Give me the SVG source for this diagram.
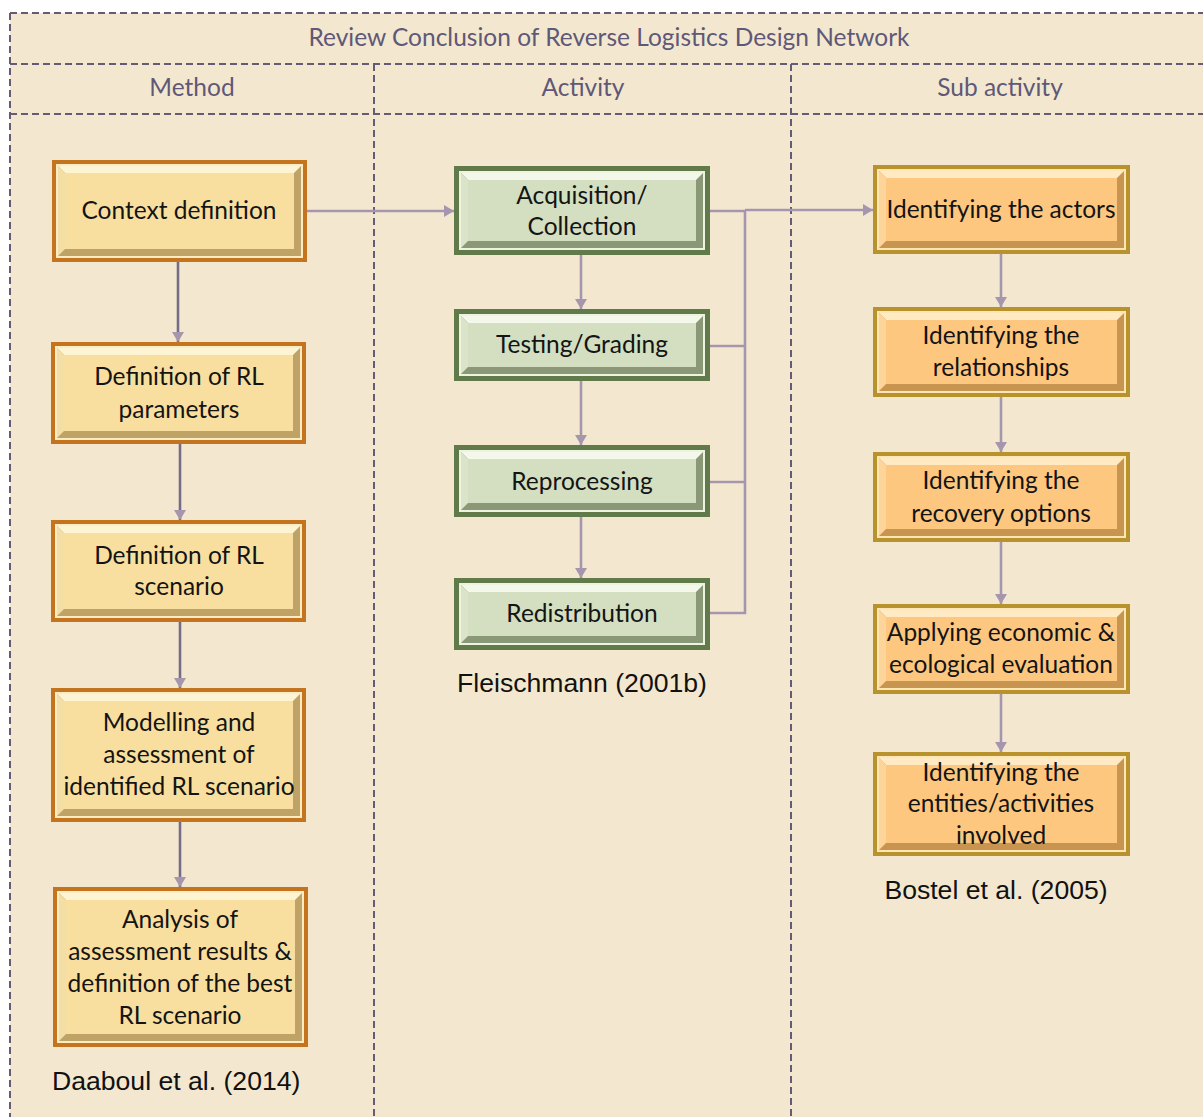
<svg xmlns="http://www.w3.org/2000/svg" width="1203" height="1117" viewBox="0 0 1203 1117">
  <style>
    .hdr { font-family: Lato, "Open Sans", sans-serif; font-size: 24.5px; fill: #5f5878; text-anchor: middle; }
    .lbl { font-family: Lato, "Open Sans", sans-serif; font-size: 24.5px; fill: #141414; text-anchor: middle; }
    .cite { font-family: "Liberation Sans", Arial, sans-serif; font-size: 26.6px; fill: #111; }
    .grid { stroke: #655b75; stroke-width: 2; stroke-dasharray: 7 4; fill: none; }
    .wire { stroke: #a596ae; stroke-width: 2.6; fill: none; }
    .wire.dk { stroke: #776c86; }
    /* method boxes */
    .m .edge { fill: #c4731f; } .m .rim { fill: #fbecc4; } .m .dark { fill: #bfa266; }
    .m .top { fill: #fdf4d4; } .m .left { fill: #f3dea6; } .m .face { fill: #f8df9f; }
    /* activity boxes */
    .a .edge { fill: #617a4a; } .a .rim { fill: #eef3e0; } .a .dark { fill: #8a9878; }
    .a .top { fill: #f4f8ea; } .a .left { fill: #dbe4c9; } .a .face { fill: #d3dfc0; }
    /* sub-activity boxes */
    .s .edge { fill: #b8922c; } .s .rim { fill: #fee6b4; } .s .dark { fill: #c89550; }
    .s .top { fill: #ffeac4; } .s .left { fill: #fdd49a; } .s .face { fill: #fdc77f; }
  </style>
  <defs>
    <marker id="arr" markerUnits="userSpaceOnUse" markerWidth="12" markerHeight="12" refX="10" refY="6" orient="auto">
      <path d="M0,0 L10,6 L0,12 Z" fill="#a596ae"/>
    </marker>
  </defs>

  <!-- page -->
  <rect x="0" y="0" width="1203" height="1117" fill="#ffffff"/>
  <rect x="10" y="13" width="1193" height="1104" fill="#f3e8cf"/>

  <!-- table grid -->
  <g id="grid">
    <line class="grid" x1="10" y1="13" x2="1203" y2="13"/>
    <line class="grid" x1="10" y1="13" x2="10" y2="1117"/>
    <line class="grid" x1="10" y1="64" x2="1203" y2="64"/>
    <line class="grid" x1="10" y1="114" x2="1203" y2="114"/>
    <line class="grid" x1="374" y1="64" x2="374" y2="1117"/>
    <line class="grid" x1="791" y1="64" x2="791" y2="1117"/>
  </g>

  <g id="headers">
    <text class="hdr" x="609" y="46">Review Conclusion of Reverse Logistics Design Network</text>
    <text class="hdr" x="192" y="96">Method</text>
    <text class="hdr" x="583" y="96">Activity</text>
    <text class="hdr" x="1000" y="96">Sub activity</text>
  </g>

  <!-- connectors -->
  <g id="connectors">
    <line class="wire" x1="307" y1="211" x2="454" y2="211" marker-end="url(#arr)"/>
    <line class="wire dk" x1="178" y1="262" x2="178" y2="342" marker-end="url(#arr)"/>
    <line class="wire dk" x1="180" y1="444" x2="180" y2="520" marker-end="url(#arr)"/>
    <line class="wire dk" x1="180" y1="622" x2="180" y2="688" marker-end="url(#arr)"/>
    <line class="wire dk" x1="180" y1="822" x2="180" y2="887" marker-end="url(#arr)"/>
    <line class="wire" x1="581" y1="255" x2="581" y2="309" marker-end="url(#arr)"/>
    <line class="wire" x1="581" y1="381" x2="581" y2="445" marker-end="url(#arr)"/>
    <line class="wire" x1="581" y1="517" x2="581" y2="578" marker-end="url(#arr)"/>
    <path class="wire" d="M710,211 H745 M710,346 H745 M710,482 H745 M710,613 H745 V210"/>
    <line class="wire" x1="745" y1="210" x2="873" y2="210" marker-end="url(#arr)"/>
    <line class="wire" x1="1001" y1="254" x2="1001" y2="307" marker-end="url(#arr)"/>
    <line class="wire" x1="1001" y1="397" x2="1001" y2="452" marker-end="url(#arr)"/>
    <line class="wire" x1="1001" y1="542" x2="1001" y2="604" marker-end="url(#arr)"/>
    <line class="wire" x1="1001" y1="694" x2="1001" y2="752" marker-end="url(#arr)"/>
  </g>

  <!-- Method column -->
  <g id="context-definition" class="m">
    <rect class="edge" x="52" y="160" width="255" height="102"/>
    <rect class="rim" x="56" y="164" width="247" height="94"/>
    <rect class="dark" x="58" y="166" width="243" height="90"/>
    <path class="top" d="M58,166 H301 L294,173 H65 Z"/>
    <path class="left" d="M58,166 L65,173 V249 L58,256 Z"/>
    <rect class="face" x="65" y="173" width="229" height="76"/>
    <text class="lbl" x="179" y="219">Context definition</text>
  </g>
  <g id="rl-parameters" class="m">
    <rect class="edge" x="51" y="342" width="255" height="102"/>
    <rect class="rim" x="55" y="346" width="247" height="94"/>
    <rect class="dark" x="57" y="348" width="243" height="90"/>
    <path class="top" d="M57,348 H300 L293,355 H64 Z"/>
    <path class="left" d="M57,348 L64,355 V431 L57,438 Z"/>
    <rect class="face" x="64" y="355" width="229" height="76"/>
    <text class="lbl" x="179" y="385">Definition of RL</text>
    <text class="lbl" x="179" y="418">parameters</text>
  </g>
  <g id="rl-scenario" class="m">
    <rect class="edge" x="51" y="520" width="255" height="102"/>
    <rect class="rim" x="55" y="524" width="247" height="94"/>
    <rect class="dark" x="57" y="526" width="243" height="90"/>
    <path class="top" d="M57,526 H300 L293,533 H64 Z"/>
    <path class="left" d="M57,526 L64,533 V609 L57,616 Z"/>
    <rect class="face" x="64" y="533" width="229" height="76"/>
    <text class="lbl" x="179" y="564">Definition of RL</text>
    <text class="lbl" x="179" y="595">scenario</text>
  </g>
  <g id="modelling" class="m">
    <rect class="edge" x="51" y="688" width="255" height="134"/>
    <rect class="rim" x="55" y="692" width="247" height="126"/>
    <rect class="dark" x="57" y="694" width="243" height="122"/>
    <path class="top" d="M57,694 H300 L293,701 H64 Z"/>
    <path class="left" d="M57,694 L64,701 V809 L57,816 Z"/>
    <rect class="face" x="64" y="701" width="229" height="108"/>
    <text class="lbl" x="179" y="731">Modelling and</text>
    <text class="lbl" x="179" y="763">assessment of</text>
    <text class="lbl" x="179" y="795">identified RL scenario</text>
  </g>
  <g id="analysis" class="m">
    <rect class="edge" x="53" y="887" width="255" height="160"/>
    <rect class="rim" x="57" y="891" width="247" height="152"/>
    <rect class="dark" x="59" y="893" width="243" height="148"/>
    <path class="top" d="M59,893 H302 L295,900 H66 Z"/>
    <path class="left" d="M59,893 L66,900 V1034 L59,1041 Z"/>
    <rect class="face" x="66" y="900" width="229" height="134"/>
    <text class="lbl" x="180" y="928">Analysis of</text>
    <text class="lbl" x="180" y="960">assessment results &amp;</text>
    <text class="lbl" x="180" y="992">definition of the best</text>
    <text class="lbl" x="180" y="1024">RL scenario</text>
  </g>
  <text id="cite-daaboul" class="cite" x="52" y="1090">Daaboul et al. (2014)</text>

  <!-- Activity column -->
  <g id="acquisition" class="a">
    <rect class="edge" x="454" y="166" width="256" height="89"/>
    <rect class="rim" x="459" y="171" width="246" height="79"/>
    <rect class="dark" x="461" y="173" width="242" height="75"/>
    <path class="top" d="M461,173 H703 L696,180 H468 Z"/>
    <path class="left" d="M461,173 L468,180 V241 L461,248 Z"/>
    <rect class="face" x="468" y="180" width="228" height="61"/>
    <text class="lbl" x="582" y="204">Acquisition/</text>
    <text class="lbl" x="582" y="235">Collection</text>
  </g>
  <g id="testing" class="a">
    <rect class="edge" x="454" y="309" width="256" height="72"/>
    <rect class="rim" x="459" y="314" width="246" height="62"/>
    <rect class="dark" x="461" y="316" width="242" height="58"/>
    <path class="top" d="M461,316 H703 L696,323 H468 Z"/>
    <path class="left" d="M461,316 L468,323 V367 L461,374 Z"/>
    <rect class="face" x="468" y="323" width="228" height="44"/>
    <text class="lbl" x="582" y="353">Testing/Grading</text>
  </g>
  <g id="reprocessing" class="a">
    <rect class="edge" x="454" y="445" width="256" height="72"/>
    <rect class="rim" x="459" y="450" width="246" height="62"/>
    <rect class="dark" x="461" y="452" width="242" height="58"/>
    <path class="top" d="M461,452 H703 L696,459 H468 Z"/>
    <path class="left" d="M461,452 L468,459 V503 L461,510 Z"/>
    <rect class="face" x="468" y="459" width="228" height="44"/>
    <text class="lbl" x="582" y="490">Reprocessing</text>
  </g>
  <g id="redistribution" class="a">
    <rect class="edge" x="454" y="578" width="256" height="72"/>
    <rect class="rim" x="459" y="583" width="246" height="62"/>
    <rect class="dark" x="461" y="585" width="242" height="58"/>
    <path class="top" d="M461,585 H703 L696,592 H468 Z"/>
    <path class="left" d="M461,585 L468,592 V636 L461,643 Z"/>
    <rect class="face" x="468" y="592" width="228" height="44"/>
    <text class="lbl" x="582" y="622">Redistribution</text>
  </g>
  <text id="cite-fleischmann" class="cite" x="582" y="692" text-anchor="middle">Fleischmann (2001b)</text>

  <!-- Sub activity column -->
  <g id="actors" class="s">
    <rect class="edge" x="873" y="165" width="257" height="89"/>
    <rect class="rim" x="877" y="169" width="249" height="81"/>
    <rect class="dark" x="879" y="171" width="245" height="77"/>
    <path class="top" d="M879,171 H1124 L1117,178 H886 Z"/>
    <path class="left" d="M879,171 L886,178 V241 L879,248 Z"/>
    <rect class="face" x="886" y="178" width="231" height="63"/>
    <text class="lbl" x="1001" y="218">Identifying the actors</text>
  </g>
  <g id="relationships" class="s">
    <rect class="edge" x="873" y="307" width="257" height="90"/>
    <rect class="rim" x="877" y="311" width="249" height="82"/>
    <rect class="dark" x="879" y="313" width="245" height="78"/>
    <path class="top" d="M879,313 H1124 L1117,320 H886 Z"/>
    <path class="left" d="M879,313 L886,320 V384 L879,391 Z"/>
    <rect class="face" x="886" y="320" width="231" height="64"/>
    <text class="lbl" x="1001" y="344">Identifying the</text>
    <text class="lbl" x="1001" y="376">relationships</text>
  </g>
  <g id="recovery-options" class="s">
    <rect class="edge" x="873" y="452" width="257" height="90"/>
    <rect class="rim" x="877" y="456" width="249" height="82"/>
    <rect class="dark" x="879" y="458" width="245" height="78"/>
    <path class="top" d="M879,458 H1124 L1117,465 H886 Z"/>
    <path class="left" d="M879,458 L886,465 V529 L879,536 Z"/>
    <rect class="face" x="886" y="465" width="231" height="64"/>
    <text class="lbl" x="1001" y="489">Identifying the</text>
    <text class="lbl" x="1001" y="522">recovery options</text>
  </g>
  <g id="evaluation" class="s">
    <rect class="edge" x="873" y="604" width="257" height="90"/>
    <rect class="rim" x="877" y="608" width="249" height="82"/>
    <rect class="dark" x="879" y="610" width="245" height="78"/>
    <path class="top" d="M879,610 H1124 L1117,617 H886 Z"/>
    <path class="left" d="M879,610 L886,617 V681 L879,688 Z"/>
    <rect class="face" x="886" y="617" width="231" height="64"/>
    <text class="lbl" x="1001" y="641">Applying economic &amp;</text>
    <text class="lbl" x="1001" y="673">ecological evaluation</text>
  </g>
  <g id="entities" class="s">
    <rect class="edge" x="873" y="752" width="257" height="104"/>
    <rect class="rim" x="877" y="756" width="249" height="96"/>
    <rect class="dark" x="879" y="758" width="245" height="92"/>
    <path class="top" d="M879,758 H1124 L1117,765 H886 Z"/>
    <path class="left" d="M879,758 L886,765 V843 L879,850 Z"/>
    <rect class="face" x="886" y="765" width="231" height="78"/>
    <text class="lbl" x="1001" y="781">Identifying the</text>
    <text class="lbl" x="1001" y="812">entities/activities</text>
    <text class="lbl" x="1001" y="844">involved</text>
  </g>
  <text id="cite-bostel" class="cite" x="996" y="899" text-anchor="middle">Bostel et al. (2005)</text>
</svg>
